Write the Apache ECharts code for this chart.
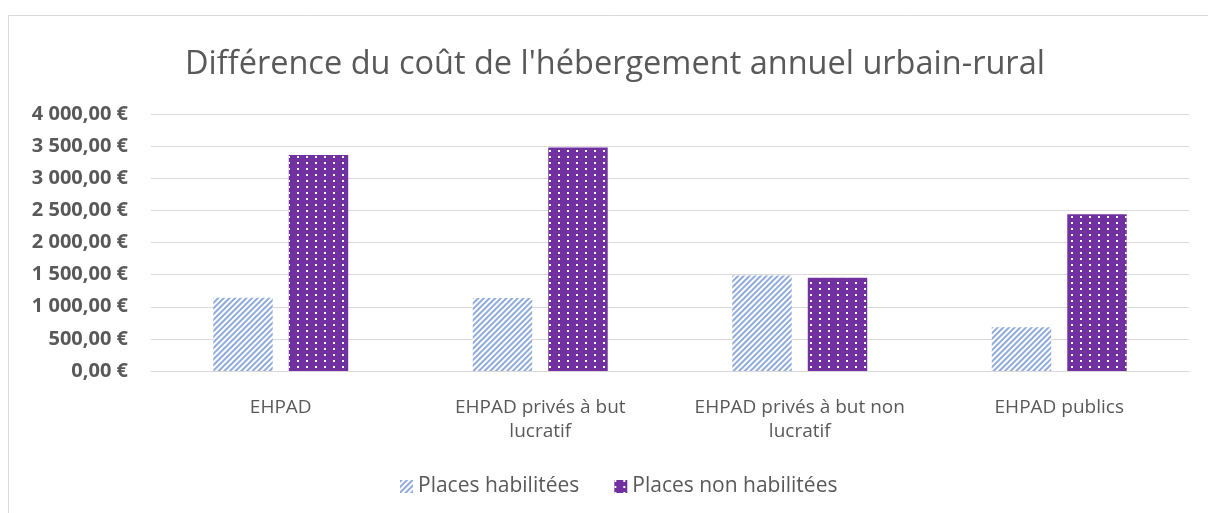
<!DOCTYPE html>
<html>
<head>
<meta charset="utf-8">
<script src="https://cdn.jsdelivr.net/npm/echarts@6/dist/echarts.min.js"></script>
<style>
  html, body { margin: 0; padding: 0; background: #fff; }
  #chart { width: 1208px; height: 513px; }
</style>
</head>
<body>
<div id="chart"></div>
<script>
// Categories and values (€ per year, urban minus rural)
const categories = [
  'EHPAD',
  'EHPAD privés à but\nlucratif',
  'EHPAD privés à but non\nlucratif',
  'EHPAD publics'
];
const seriesNames = ['Places habilitées', 'Places non habilitées'];
const placesHabilitees = [1140, 1135, 1485, 680];
const placesNonHabilitees = [3360, 3480, 1450, 2440];
const yTickLabels = [
  '0,00 €', '500,00 €', '1 000,00 €', '1 500,00 €', '2 000,00 €',
  '2 500,00 €', '3 000,00 €', '3 500,00 €', '4 000,00 €'
];
const yStep = 500;

const textColor = '#595959';
const font = '"Open Sans", sans-serif';

const chart = echarts.init(document.getElementById('chart'), null, { renderer: 'canvas' });

chart.setOption({
  backgroundColor: '#ffffff',
  animation: false,
  graphic: [{
    type: 'rect',
    shape: { x: 8.5, y: 15.5, width: 1400, height: 700 },
    style: { fill: 'none', stroke: '#d9d9d9', lineWidth: 1 },
    silent: true,
    z: -10
  }],
  title: {
    text: "Différence du coût de l'hébergement annuel urbain-rural",
    left: 180,
    top: 43,
    textStyle: { fontFamily: font, fontSize: 32.5, fontWeight: 'normal', color: textColor }
  },
  grid: { left: 151, right: 19, top: 114, height: 257, containLabel: false },
  xAxis: {
    type: 'category',
    data: categories,
    axisLine: { lineStyle: { color: '#d9d9d9', width: 1 } },
    axisTick: { show: false },
    axisLabel: {
      fontFamily: font, fontSize: 19, color: textColor,
      margin: 25, lineHeight: 24, interval: 0
    }
  },
  yAxis: {
    type: 'value',
    min: 0, max: 4000, interval: yStep,
    axisLine: { show: false },
    axisTick: { show: false },
    splitLine: { lineStyle: { color: '#d9d9d9', width: 1 } },
    axisLabel: {
      fontFamily: font, fontSize: 20, fontWeight: 'bold', color: textColor, margin: 23,
      formatter: v => yTickLabels[Math.round(v / yStep)]
    }
  },
  legend: {
    bottom: 11,
    left: 395,
    itemWidth: 13, itemHeight: 13, itemGap: 35,
    icon: 'rect',
    textStyle: { fontFamily: font, fontSize: 21, color: textColor },
    data: seriesNames
  },
  series: [
    {
      name: seriesNames[0],
      type: 'bar',
      data: placesHabilitees,
      barGap: '27%',
      barCategoryGap: '48%',
      itemStyle: {
        color: '#ffffff',
        decal: {
          symbol: 'rect',
          color: '#8faadc',
          dashArrayX: [1, 0],
          dashArrayY: [2, 2],
          rotation: -Math.PI / 4
        }
      }
    },
    {
      name: seriesNames[1],
      type: 'bar',
      data: placesNonHabilitees,
      itemStyle: {
        color: '#7030a0',
        decal: {
          symbol: 'rect',
          color: '#ffffff',
          symbolSize: 1,
          dashArrayX: [1.5, 6.8],
          dashArrayY: [1.5, 3.5],
          rotation: 0
        }
      }
    }
  ]
});
</script>
</body>
</html>
